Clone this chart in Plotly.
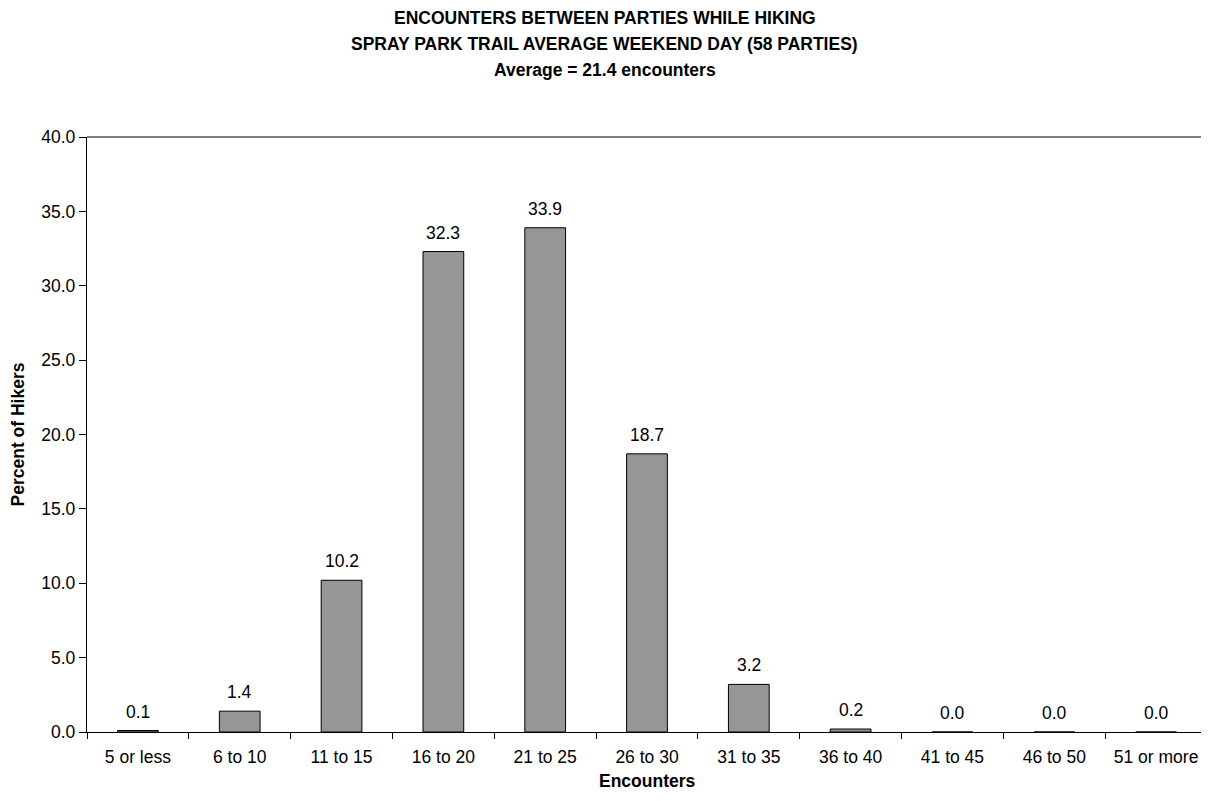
import plotly.graph_objects as go

categories = ["5 or less", "6 to 10", "11 to 15", "16 to 20", "21 to 25", "26 to 30",
              "31 to 35", "36 to 40", "41 to 45", "46 to 50", "51 or more"]
percent = [0.1, 1.4, 10.2, 32.3, 33.9, 18.7, 3.2, 0.2, 0.0, 0.0, 0.0]
title_lines = ["ENCOUNTERS BETWEEN PARTIES WHILE HIKING",
               "SPRAY PARK TRAIL AVERAGE WEEKEND DAY (58 PARTIES)",
               "Average = 21.4 encounters"]
x_title = "Encounters"
y_title = "Percent of Hikers"
yticks = [0, 5, 10, 15, 20, 25, 30, 35, 40]

FONT = "Liberation Sans, Arial, sans-serif"
FS = 17.5

# page body has an 8px margin; compensate so the plot lands where the reference has it
OFF = 8
W, H = 1209 - OFF, 801 - 2 * OFF
plot_left, plot_right, plot_top, plot_bottom = 87, 1207, 137, 732  # screen px

fig = go.Figure()
fig.add_trace(go.Bar(
    x=categories, y=percent,
    marker=dict(color="#969696", line=dict(color="#000000", width=1)),
    cliponaxis=False,
))

# value labels above bars
for c, v in zip(categories, percent):
    fig.add_annotation(x=c, y=v, xref="x", yref="y", text=f"{v:.1f}", showarrow=False,
                       yanchor="middle", yshift=19,
                       font=dict(family=FONT, size=FS, color="#000"))

h = plot_bottom - plot_top
w = plot_right - plot_left
for line, ypix in zip(title_lines, [17.5, 44, 70]):
    fig.add_annotation(text=f"<b>{line}</b>", xref="paper", yref="paper",
                       x=(604.5 - plot_left) / w, y=(plot_bottom - ypix) / h, showarrow=False,
                       xanchor="center", yanchor="middle",
                       font=dict(family=FONT, size=FS, color="#000"))

# x-axis title (as annotation so it can sit lower than the margin allows)
fig.add_annotation(text=f"<b>{x_title}</b>", xref="paper", yref="paper",
                   x=0.5, y=(plot_bottom - 780.5) / h, showarrow=False,
                   xanchor="center", yanchor="middle",
                   font=dict(family=FONT, size=FS, color="#000"))

fig.update_layout(
    width=W, height=H,
    margin=dict(l=plot_left - OFF, r=W - (plot_right - OFF), t=plot_top - OFF,
                b=H - (plot_bottom - OFF), pad=0),
    paper_bgcolor="white", plot_bgcolor="white",
    bargap=0.6, showlegend=False,
    font=dict(family=FONT, size=FS, color="#000"),
    shapes=[dict(type="line", xref="paper", yref="paper", x0=0, x1=1, y0=1, y1=1,
                 line=dict(color="#808080", width=2)),
            dict(type="line", xref="paper", yref="paper", x0=0.9995, x1=0.9995, y0=0, y1=1,
                 line=dict(color="#808080", width=2))],
)
fig.update_xaxes(
    type="category", tickson="boundaries", ticks="outside", ticklen=6,
    tickcolor="#000", showline=True, linecolor="#000", linewidth=1.3,
    tickfont=dict(family=FONT, size=FS, color="#000"), automargin=False,
    ticklabelstandoff=9,
)
fig.update_yaxes(
    range=[0, 40], tickvals=yticks, ticktext=[f"{v:.1f}" for v in yticks],
    ticks="outside", ticklen=7, tickcolor="#000", showline=True, linecolor="#000",
    linewidth=1.3, showgrid=False, zeroline=False, automargin=False,
    tickfont=dict(family=FONT, size=FS, color="#000"),
    title=dict(text=f"<b>{y_title}</b>", font=dict(family=FONT, size=FS, color="#000"),
               standoff=12),
)
fig.write_html("out.html")
